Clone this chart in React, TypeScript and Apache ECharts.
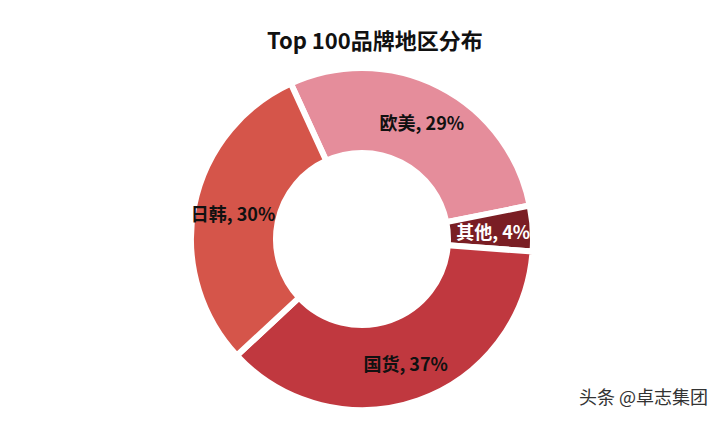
import React, { useEffect, useRef } from "react";
import * as echarts from "echarts";

const titleText = "Top 100品牌地区分布";
const categories = ["欧美", "其他", "国货", "日韩"];
const values = [28.7, 4.3, 36.9, 30.1];
const colors = ["#E58D9B", "#7A1E24", "#C0383F", "#D5554A"];
const labelColors = ["#111111", "#ffffff", "#111111", "#111111"];
const watermark = "头条 @卓志集团";

export default function App() {
  const ref = useRef<HTMLDivElement>(null);
  useEffect(() => {
    if (!ref.current) return;
    const chart = echarts.init(ref.current, undefined, { renderer: "svg" });
    const font = '"Noto Sans CJK SC", "Noto Sans", sans-serif';
    chart.setOption({
      animation: false,
      backgroundColor: "#ffffff",
      title: {
        text: titleText,
        left: 262,
        top: 23,
        textStyle: { fontSize: 22, fontWeight: "bold", color: "#111111", fontFamily: font },
      },
      graphic: [
        {
          type: "text",
          right: 13,
          top: 387,
          style: { text: watermark, fontSize: 18, fill: "#333333", fontFamily: font },
        },
      ],
      series: [
        {
          type: "pie",
          center: [362, 239],
          radius: [86, 171],
          startAngle: 114.6,
          clockwise: true,
          avoidLabelOverlap: false,
          itemStyle: { borderColor: "#ffffff", borderWidth: 6 },
          label: {
            show: true,
            position: "inside",
            formatter: (p: any) => `${p.name}, ${Math.round(p.value)}%`,
            fontSize: 18,
            fontWeight: "bold",
            fontFamily: font,
          },
          labelLine: { show: false },
          data: categories.map((c, i) => ({
            name: c,
            value: values[i],
            itemStyle: { color: colors[i] },
            label: { color: labelColors[i] },
          })),
        },
      ],
    });
    return () => chart.dispose();
  }, []);
  return (
    <div
      ref={ref}
      style={{ position: "absolute", left: 0, top: 0, width: 721, height: 421 }}
    />
  );
}
